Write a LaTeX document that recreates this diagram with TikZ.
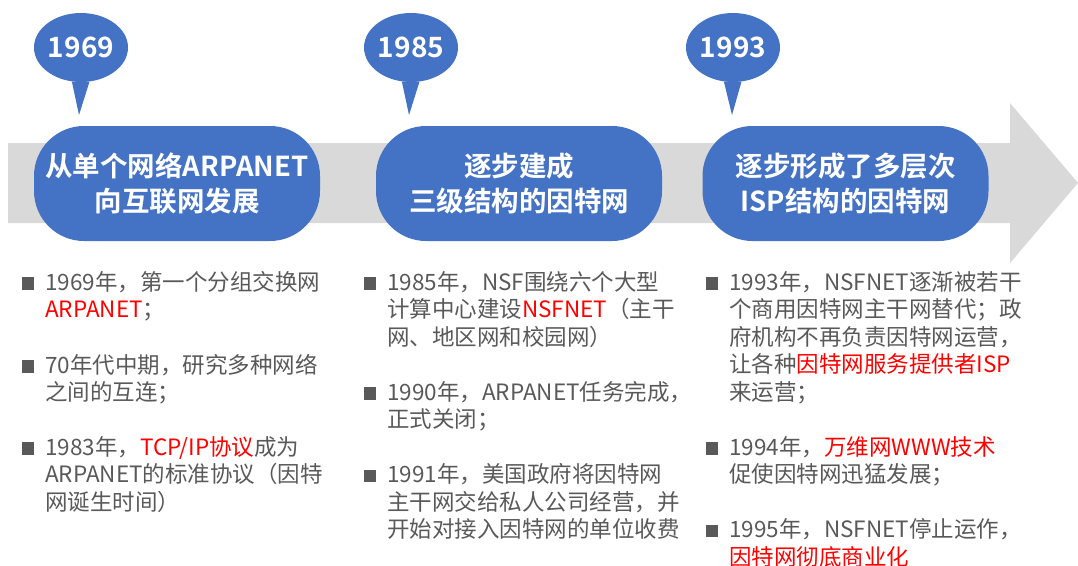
\documentclass[tikz,border=0pt]{standalone}
\usepackage{fontspec}
\setmainfont{Noto Sans CJK SC}[BoldFont={Noto Sans CJK SC Bold}]
\usetikzlibrary{shapes.geometric}
\definecolor{stageblue}{HTML}{4472C4}
\definecolor{bandgray}{HTML}{D9D9D9}
\definecolor{textgray}{HTML}{595959}
\definecolor{hired}{HTML}{FF0000}
\newcommand{\hi}[1]{\textcolor{hired}{#1}}
\newcommand{\itm}{\rule{0pt}{22pt}\llap{\rule[0.5pt]{12.5pt}{12.5pt}\hspace{11pt}}}

\begin{document}
\begin{tikzpicture}[x=1pt,y=1pt,
	year/.style={ellipse,fill=stageblue,minimum width=94,minimum height=69,text=white,font=\bfseries\fontsize{28}{34}\selectfont},
	stage/.style={rectangle,rounded corners=50,fill=stageblue,minimum width=286,minimum height=115,text=white,align=center,font=\bfseries\fontsize{27.5}{35}\selectfont},
	item/.style={anchor=north west,align=left,text=textgray,font=\fontsize{22.5}{27.5}\selectfont}]
	\tikzstyle{every node}+=[inner sep=0pt]
	\useasboundingbox (0,0) rectangle (1078,-565);
	% time band
	\fill [bandgray] (8,-143) -- (1010,-143) -- (1010,-103) -- (1078,-183) -- (1010,-263) -- (1010,-223) -- (8,-223) -- cycle;
	% year bubbles
	\node [year] (b1) at (81,-47.5) {1969};
	\node [year] (b2) at (411,-47.5) {1985};
	\node [year] (b3) at (733,-47.5) {1993};
	\coordinate (t1) at (79,-115);
	\coordinate (t2) at (409,-115);
	\coordinate (t3) at (732,-115);
	\fill [stageblue] (b1.-105) -- (t1) -- (b1.-76) -- cycle;
	\fill [stageblue] (b2.-105) -- (t2) -- (b2.-76) -- cycle;
	\fill [stageblue] (b3.-105) -- (t3) -- (b3.-76) -- cycle;
	% stages
	\node [stage] (s1) at (177,-183.5) {从单个网络ARPANET\\向互联网发展};
	\node [stage] (s2) at (519,-183.5) {逐步建成\\三级结构的因特网};
	\node [stage] (s3) at (845.5,-183.5) {逐步形成了多层次\\ISP结构的因特网};
	% events
	\node [item] (e11) at (45,-268) {\itm 1969年，第一个分组交换网\\\hi{ARPANET}；};
	\node [item] (e12) at (45,-351) {\itm 70年代中期，研究多种网络\\之间的互连；};
	\node [item] (e13) at (45,-433) {\itm 1983年，\hi{TCP/IP协议}成为\\ARPANET的标准协议（因特\\网诞生时间）};
	\node [item] (e21) at (387,-268) {\itm 1985年，NSF围绕六个大型\\计算中心建设\hi{NSFNET}（主干\\网、地区网和校园网）};
	\node [item] (e22) at (387,-378) {\itm 1990年，ARPANET任务完成，\\正式关闭；};
	\node [item] (e23) at (387,-460.5) {\itm 1991年，美国政府将因特网\\主干网交给私人公司经营，并\\开始对接入因特网的单位收费};
	\node [item] (e31) at (729,-268) {\itm 1993年，NSFNET逐渐被若干\\个商用因特网主干网替代；政\\府机构不再负责因特网运营，\\让各种\hi{因特网服务提供者ISP}\\来运营；};
	\node [item] (e32) at (729,-433) {\itm 1994年，\hi{万维网WWW技术}\\促使因特网迅猛发展；};
	\node [item] (e33) at (729,-515.5) {\itm 1995年，NSFNET停止运作，\\\hi{因特网彻底商业化}};
\end{tikzpicture}
\end{document}
